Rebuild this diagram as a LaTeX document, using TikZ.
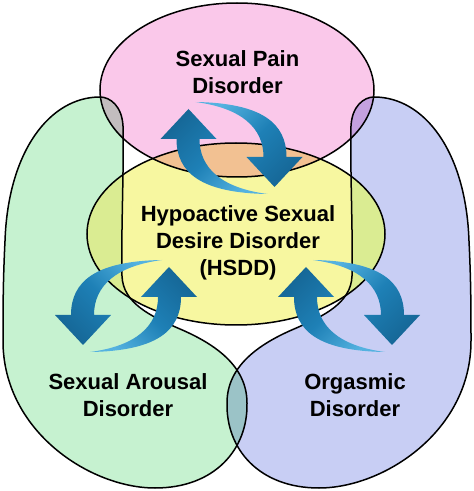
\documentclass[tikz,border=0pt]{standalone}
\usepackage{fontspec}
\setmainfont{Liberation Sans}

\definecolor{painpink}{RGB}{250,200,234}
\definecolor{desireyellow}{RGB}{247,247,160}
\definecolor{arousalgreen}{RGB}{198,242,208}
\definecolor{orgasmblue}{RGB}{200,206,244}
\definecolor{sidelime}{RGB}{218,236,146}
\definecolor{arrowdark}{RGB}{22,104,152}
\definecolor{arrowmid}{RGB}{30,128,182}
\definecolor{arrowlight}{RGB}{84,178,224}

\newcommand{\beanpath}{(100,394) .. controls (50,394) and (8,340) .. (5,250)
  .. controls (3,210) and (3,180) .. (3,150)
  .. controls (3,60) and (90,3) .. (155,3)
  .. controls (215,3) and (248,42) .. (247,88)
  .. controls (247,125) and (215,147) .. (180,162)
  .. controls (150,175) and (123,188) .. (122,215)
  .. controls (121,260) and (124,320) .. (123,365)
  .. controls (122,385) and (110,394) .. (100,394) -- cycle}
\newcommand{\arrowpath}{(-43,39) -- (-71,9) -- (-55,9)
  .. controls (-55,-25) and (-30,-45) .. (36,-46)
  .. controls (-10,-40) and (-32,-20) .. (-32,9)
  -- (-15,9) -- cycle}

\begin{document}
\begin{tikzpicture}[x=1pt, y=1pt,
  outline/.style={draw=black, line width=1.5pt},
  disorder/.style={font=\bfseries\fontsize{22}{27}\selectfont, align=center, anchor=north, inner sep=0pt},
  arrowshade/.style={top color=arrowdark, bottom color=arrowlight, middle color=arrowmid, shading angle=#1}]
\useasboundingbox (0,0) rectangle (474,491);

\begin{scope}[blend group=multiply]
\fill[arousalgreen] \beanpath;
\fill[orgasmblue, shift={(474,0)}, xscale=-1] \beanpath;
\fill[painpink] (237,401) ellipse [x radius=137, y radius=87];
\fill[desireyellow] (236,257) ellipse [x radius=149, y radius=91];
\end{scope}
\begin{scope}
\clip \beanpath;
\fill[sidelime] (236,257) ellipse [x radius=149, y radius=91];
\end{scope}
\begin{scope}
\clip[shift={(474,0)}, xscale=-1] \beanpath;
\fill[sidelime] (236,257) ellipse [x radius=149, y radius=91];
\end{scope}

\draw[outline] \beanpath;
\draw[outline, shift={(474,0)}, xscale=-1] \beanpath;
\draw[outline] (237,401) ellipse [x radius=137, y radius=87];
\draw[outline] (236,257) ellipse [x radius=149, y radius=91];

\begin{scope}[shift={(231.5,343)}]
\shade[arrowshade=45] \arrowpath;
\shade[arrowshade=225, rotate=180] \arrowpath;
\end{scope}
\begin{scope}[shift={(349,185)}]
\shade[arrowshade=45] \arrowpath;
\shade[arrowshade=225, rotate=180] \arrowpath;
\end{scope}
\begin{scope}[shift={(126,185)}, xscale=-1]
\shade[arrowshade=-45] \arrowpath;
\shade[arrowshade=135, rotate=180] \arrowpath;
\end{scope}

\path (237.5,441) node[disorder] (pain) {Sexual Pain\\Disorder}
      (238,286) node[disorder] (hsdd) {Hypoactive Sexual\\Desire Disorder\\(HSDD)}
      (128,118) node[disorder] (arousal) {Sexual Arousal\\Disorder}
      (355,118) node[disorder] (orgasmic) {Orgasmic\\Disorder};
\end{tikzpicture}
\end{document}
